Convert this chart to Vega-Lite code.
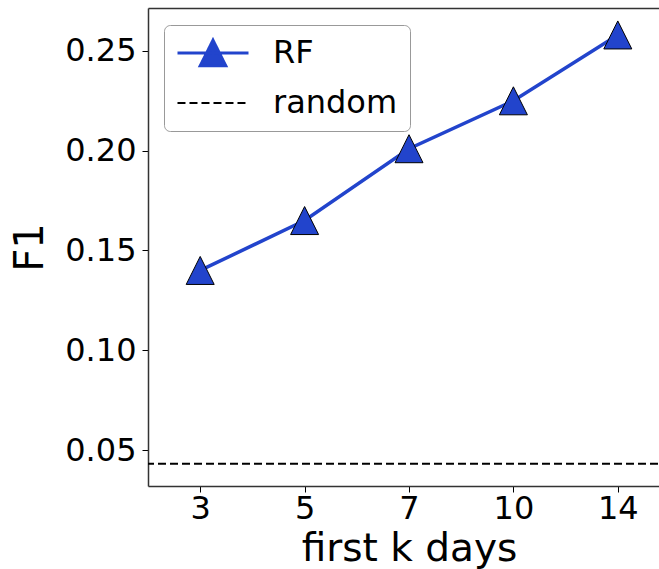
{
  "$schema": "https://vega.github.io/schema/vega-lite/v6.json",
  "autosize": {"type": "none"},
  "padding": {"left": 148, "top": 8, "right": -11, "bottom": 83},
  "width": 522,
  "height": 478,
  "background": "white",
  "config": {
    "font": "DejaVu Sans",
    "view": {"stroke": null},
    "axis": {
      "grid": false,
      "domain": true,
      "domainColor": "#333",
      "domainWidth": 1.5,
      "tickColor": "black",
      "tickSize": 6,
      "tickWidth": 1,
      "labelFont": "DejaVu Sans",
      "labelFontSize": 32,
      "labelColor": "black",
      "titleFont": "DejaVu Sans",
      "titleFontWeight": "normal",
      "titleColor": "black"
    }
  },
  "resolve": {"axis": {"x": "independent"}},
  "datasets": {
    "rf": [
      {"k": 3, "f1": 0.140, "series": "RF"},
      {"k": 5, "f1": 0.165, "series": "RF"},
      {"k": 7, "f1": 0.201, "series": "RF"},
      {"k": 10, "f1": 0.225, "series": "RF"},
      {"k": 14, "f1": 0.258, "series": "RF"}
    ],
    "random": [
      {"f1": 0.0432, "series": "random"}
    ]
  },
  "layer": [
    {
      "data": {"name": "rf"},
      "mark": {"type": "line", "strokeWidth": 3.5},
      "encoding": {
        "x": {
          "field": "k",
          "type": "ordinal",
          "scale": {"type": "point", "padding": 0.5},
          "axis": {"title": "first k days", "labelAngle": 0, "labelPadding": 1, "titleFontSize": 39, "titlePadding": 5}
        },
        "y": {
          "field": "f1",
          "type": "quantitative",
          "scale": {"domain": [0.032, 0.2715], "nice": false, "zero": false},
          "axis": {"title": "F1", "values": [0.05, 0.1, 0.15, 0.2, 0.25], "format": ".2f", "labelPadding": 6, "titleFontSize": 40, "titlePadding": 14}
        },
        "color": {
          "field": "series",
          "type": "nominal",
          "scale": {"domain": ["RF", "random"], "range": ["#2244cc", "black"]},
          "legend": {
            "title": null,
            "orient": "none",
            "legendX": 16,
            "legendY": 17,
            "padding": 12,
            "cornerRadius": 6,
            "strokeColor": "#999",
            "fillColor": "white",
            "labelFont": "DejaVu Sans",
            "labelFontSize": 32,
            "labelColor": "black",
            "symbolSize": 807,
            "symbolOffset": 21,
            "labelOffset": 44,
            "rowPadding": 15,
            "encode": {
              "symbols": {
                "update": {
                  "shape": {"signal": "datum.value === 'RF' ? 'M-2.5,0L2.5,0M0,-0.9L-0.9,0.9L0.9,0.9Z' : 'M-2.5,0L2.5,0'"},
                  "fill": {"signal": "datum.value === 'RF' ? '#2244cc' : 'transparent'"},
                  "stroke": {"signal": "datum.value === 'RF' ? '#2244cc' : 'black'"},
                  "strokeDash": {"signal": "datum.value === 'RF' ? [1, 0] : [8, 4]"},
                  "strokeWidth": {"signal": "datum.value === 'RF' ? 3 : 2"},
                  "size": {"value": 807},
                  "opacity": {"value": 1}
                }
              }
            }
          }
        }
      }
    },
    {
      "data": {"name": "rf"},
      "mark": {"type": "point", "shape": "M0,-1L-1,1L1,1Z", "size": 784, "filled": true, "fill": "#2244cc", "stroke": "black", "strokeWidth": 1, "opacity": 1},
      "encoding": {
        "x": {"field": "k", "type": "ordinal", "axis": {"orient": "top", "labels": false, "ticks": false, "title": null, "domain": true}},
        "y": {"field": "f1", "type": "quantitative"}
      }
    },
    {
      "data": {"name": "random"},
      "mark": {"type": "rule", "strokeDash": [8, 4], "strokeWidth": 2},
      "encoding": {
        "y": {"field": "f1", "type": "quantitative"},
        "color": {"field": "series", "type": "nominal"}
      }
    }
  ]
}
